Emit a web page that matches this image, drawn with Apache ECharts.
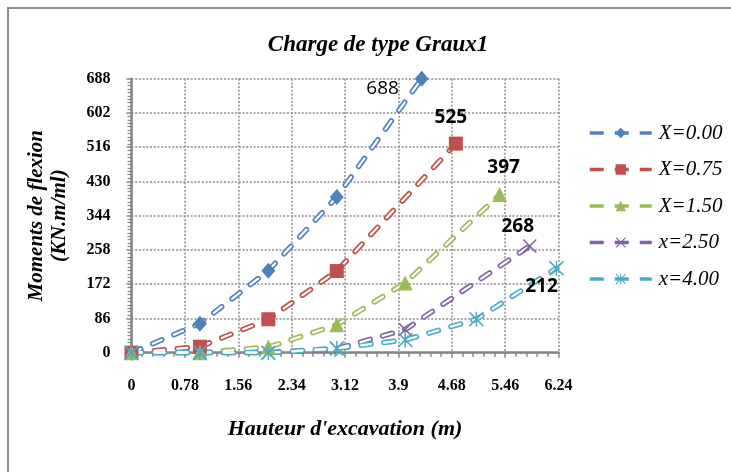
<!DOCTYPE html>
<html><head><meta charset="utf-8">
<script src="https://cdn.jsdelivr.net/npm/echarts@6/dist/echarts.min.js"></script>
<style>html,body{margin:0;padding:0;background:#fff}#c{width:731px;height:472px}</style>
</head><body><div id="c"></div>
<script>
// ---- data ----
const titleText = 'Charge de type Graux1';
const xAxisName = "Hauteur d'excavation (m)";
const yAxisName = 'Moments de flexion\n(KN.m/ml)';
const seriesNames = ['X=0.00', 'X=0.75', 'X=1.50', 'x=2.50', 'x=4.00'];
const xBlue   = [0, 1, 2, 3, 4.24];
const yBlue   = [0, 73, 206, 391, 688];
const xRed    = [0, 1, 2, 3, 4.74];
const yRed    = [0, 15, 84, 205, 525];
const xGreen  = [0, 1, 2, 3, 4, 5.38];
const yGreen  = [0, 0, 14, 70, 175, 397];
const xPurple = [0, 1, 2, 3, 4, 5.82];
const yPurple = [0, 0, 0, 10, 58, 268];
const xCyan   = [0, 1, 2, 3, 4, 5.04, 6.21];
const yCyan   = [0, 0, 0, 11, 32, 84, 212];
const xMin = 0, xMax = 6.24, xStep = 0.78;
const yMin = 0, yMax = 688, yStep = 86;

// ---- styles ----
const colors = ['#4F81BD', '#C0504D', '#9BBB59', '#8064A2', '#4BACC6'];
const xPath = 'path://M0,1.5 L1.5,0 L10,8.5 L18.5,0 L20,1.5 L11.5,10 L20,18.5 L18.5,20 L10,11.5 L1.5,20 L0,18.5 L8.5,10 Z';
const starPath = xPath + ' M9,0 L11,0 L11,20 L9,20 Z';
const symbols = ['diamond', 'rect', 'triangle', xPath, starPath];
const symbolSizes = [[14, 16], 14, 15, 14, 15];
const labelStyles = [
  {offset: [-39, 10], fontWeight: 'normal'},
  {offset: [-5, -26], fontWeight: 'bold'},
  {offset: [4, -27], fontWeight: 'bold'},
  {offset: [-12, -19], fontWeight: 'bold'},
  {offset: [-15, 18], fontWeight: 'bold'}
];
const xs = [xBlue, xRed, xGreen, xPurple, xCyan];
const ys = [yBlue, yRed, yGreen, yPurple, yCyan];
const dash = [10, 13];

const series = [];
seriesNames.forEach((name, k) => {
  const pts = xs[k].map((x, i) => [x, ys[k][i]]);
  series.push({
    name: name, type: 'line', data: pts, z: 2,
    symbol: symbols[k], symbolSize: symbolSizes[k], showSymbol: false,
    itemStyle: {color: colors[k]},
    lineStyle: {color: colors[k], width: 5.5, type: dash, cap: 'round'},
    silent: true
  });
  series.push({
    name: name + ' _in', type: 'line', data: pts, z: 3,
    showSymbol: false, symbol: 'none',
    lineStyle: {color: '#ffffff', width: 2.2, type: dash, cap: 'round'},
    silent: true
  });
  const last = pts.length - 1;
  const mdata = pts.map((p, i) => i === last ? {
    value: p,
    label: {
      show: true, position: 'inside', offset: labelStyles[k].offset,
      formatter: (pp) => String(pp.value[1]),
      fontFamily: 'Open Sans', fontSize: 19, fontWeight: labelStyles[k].fontWeight, color: '#000'
    }
  } : p);
  series.push({
    name: name + ' _m', type: 'line', data: mdata, z: 4,
    symbol: symbols[k], symbolSize: symbolSizes[k], showSymbol: true,
    itemStyle: {color: colors[k], opacity: 1},
    lineStyle: {width: 0, opacity: 0},
    silent: true
  });
});

const chart = echarts.init(document.getElementById('c'), null, {renderer: 'canvas'});
chart.setOption({
  animation: false,
  backgroundColor: '#ffffff',
  graphic: [{
    type: 'rect', silent: true, z: -10,
    shape: {x: 8, y: 8, width: 740, height: 480},
    style: {fill: 'none', stroke: '#8c8c8c', lineWidth: 2}
  }],
  title: {
    text: titleText, left: 373, top: 29, textAlign: 'center',
    textStyle: {fontFamily: 'Liberation Serif', fontStyle: 'italic', fontWeight: 'bold', fontSize: 23, color: '#000'}
  },
  legend: {
    orient: 'vertical', left: 583, top: 117.5,
    data: seriesNames.map((n) => ({name: n, lineStyle: {width: 3.5, type: [14, 11], cap: 'butt'}})),
    itemWidth: 62, itemHeight: 13, itemGap: 15.5,
    textStyle: {fontFamily: 'Liberation Serif', fontStyle: 'italic', fontSize: 21, color: '#000', padding: [0, 0, 0, 2]},
    selectedMode: false
  },
  grid: {left: 131.5, right: 172.5, top: 78.7, bottom: 119.3, containLabel: false},
  xAxis: {
    type: 'value', min: xMin, max: xMax, interval: xStep,
    name: xAxisName, nameLocation: 'middle', nameGap: 66,
    nameTextStyle: {fontFamily: 'Liberation Serif', fontStyle: 'italic', fontWeight: 'bold', fontSize: 22, color: '#000', verticalAlign: 'top'},
    axisLine: {show: true, onZero: false, lineStyle: {color: '#868686', width: 2.5}},
    axisTick: {show: true, length: 5, lineStyle: {color: '#868686', width: 1.5}},
    minorTick: {show: true, splitNumber: 5, length: 4, lineStyle: {color: '#868686', width: 1.5}},
    axisLabel: {margin: 25, fontFamily: 'Liberation Serif', fontWeight: 'bold', fontSize: 16, color: '#000'},
    splitLine: {show: true, lineStyle: {color: '#8c8c8c', width: 1.5, type: [2, 1.7]}}
  },
  yAxis: {
    type: 'value', min: yMin, max: yMax, interval: yStep,
    name: yAxisName, nameLocation: 'middle', nameGap: 60, nameRotate: 90,
    nameTextStyle: {fontFamily: 'Liberation Serif', fontStyle: 'italic', fontWeight: 'bold', fontSize: 21, lineHeight: 23, color: '#000'},
    axisLine: {show: true, lineStyle: {color: '#868686', width: 2.5}},
    axisTick: {show: true, length: 5, lineStyle: {color: '#868686', width: 1.5}},
    minorTick: {show: true, splitNumber: 10, length: 4, lineStyle: {color: '#868686', width: 1.2}},
    axisLabel: {margin: 21, fontFamily: 'Liberation Serif', fontWeight: 'bold', fontSize: 16, color: '#000'},
    splitLine: {show: true, lineStyle: {color: '#8c8c8c', width: 1.5, type: [2, 1.7]}}
  },
  series: series
});
</script>
</body></html>
